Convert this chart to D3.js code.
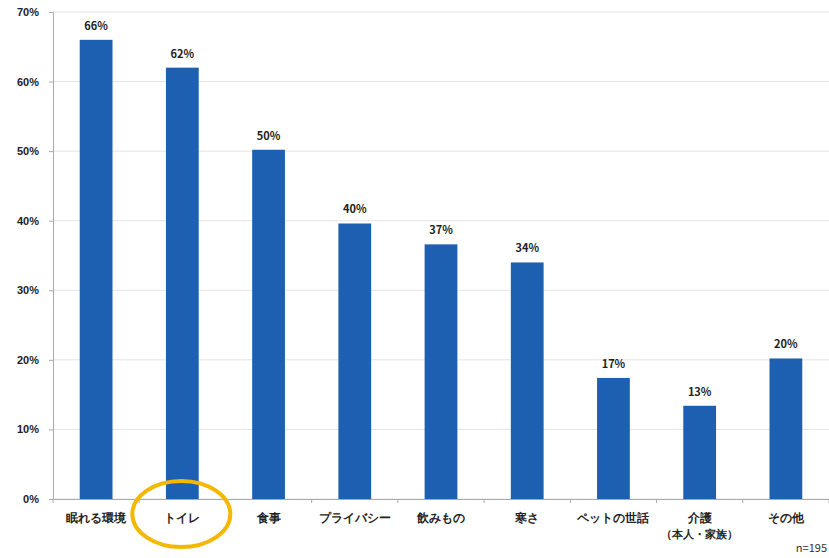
<!DOCTYPE html>
<html lang="ja">
<head>
  <meta charset="UTF-8" />
  <title>避難所で困ったこと</title>
  <script src="https://d3js.org/d3.v7.min.js"></script>
  <style>
    body {
      margin: 0;
      background: #fff;
      font-family: "Noto Sans CJK JP", "Noto Sans", sans-serif;
    }
    .tick text {
      font-size: 11px;
      font-weight: bold;
      fill: #222;
    }
  </style>
</head>
<body>
  <svg width="829" height="558"></svg>

  <script>
    const categories = ["眠れる環境", "トイレ", "食事", "プライバシー", "飲みもの", "寒さ", "ペットの世話", "介護\n（本人・家族）", "その他"];
    const values = [66, 62, 50.2, 39.6, 36.6, 34, 17.4, 13.4, 20.2];
    const yTicks = [0, 10, 20, 30, 40, 50, 60, 70];
    const highlighted = "トイレ";
    const note = "n=195";

    const svg = d3.select("svg"),
          margin = { top: 12, right: 0, bottom: 59, left: 53 },
          width = +svg.attr("width") - margin.left - margin.right,
          height = +svg.attr("height") - margin.top - margin.bottom;

    const chart = svg.append("g")
      .attr("transform", `translate(${margin.left},${margin.top})`);

    const x = d3.scaleBand().domain(categories).range([0, width]).paddingInner(0.62).paddingOuter(0.31);
    const y = d3.scaleLinear().domain([0, 70]).range([height, 0]);

    // gridlines
    chart.append("g")
      .selectAll("line")
      .data(yTicks)
      .enter()
      .append("line")
      .attr("x1", 0)
      .attr("x2", width)
      .attr("y1", d => y(d))
      .attr("y2", d => y(d))
      .attr("stroke", "#e4e4e4")
      .attr("stroke-width", 1);

    // y axis
    const yAxis = chart.append("g")
      .call(d3.axisLeft(y).tickValues(yTicks).tickFormat(d => d + "%").tickSize(4).tickPadding(8));
    yAxis.select(".domain").attr("stroke", "#aaa");
    yAxis.selectAll(".tick line").attr("stroke", "#aaa");
    yAxis.selectAll(".tick text").attr("dx", "-2");

    // x axis
    const step = x.step();
    const xAxis = chart.append("g")
      .attr("transform", `translate(0,${height})`)
      .call(d3.axisBottom(x).tickSize(0).tickPadding(15));
    xAxis.select(".domain").attr("stroke", "#aaa");
    xAxis.selectAll(".tick text").each(function(d) {
      const parts = d.split("\n");
      const t = d3.select(this).text(null);
      parts.forEach((p, i) => {
        t.append("tspan")
          .attr("x", 0)
          .attr("dy", i === 0 ? "0.71em" : "1.55em")
          .attr("font-size", i === 0 ? "11.5px" : "10.5px")
          .text(p);
      });
    });
    chart.append("g")
      .selectAll("line")
      .data(d3.range(categories.length + 1))
      .enter()
      .append("line")
      .attr("x1", i => x(categories[0]) - x.step() * x.paddingOuter() + i * step)
      .attr("x2", i => x(categories[0]) - x.step() * x.paddingOuter() + i * step)
      .attr("y1", height)
      .attr("y2", height + 4)
      .attr("stroke", "#aaa");

    // bars
    chart.selectAll("rect.bar")
      .data(values)
      .enter()
      .append("rect")
      .attr("class", "bar")
      .attr("x", (d, i) => x(categories[i]))
      .attr("y", d => y(d))
      .attr("width", x.bandwidth())
      .attr("height", d => height - y(d))
      .attr("fill", "#1d5fb1");

    // value labels
    chart.selectAll("text.val")
      .data(values)
      .enter()
      .append("text")
      .attr("class", "val")
      .attr("x", (d, i) => x(categories[i]) + x.bandwidth() / 2)
      .attr("y", d => y(d) - 10)
      .attr("text-anchor", "middle")
      .attr("font-size", "11px")
      .attr("font-weight", "bold")
      .attr("fill", "#222")
      .text(d => Math.round(d) + "%");

    // highlight ring
    chart.append("ellipse")
      .attr("cx", x(highlighted) + x.bandwidth() / 2 - 1)
      .attr("cy", height + 15)
      .attr("rx", 49)
      .attr("ry", 33)
      .attr("fill", "none")
      .attr("stroke", "#f4b800")
      .attr("stroke-width", 4);

    svg.append("text")
      .attr("x", 827)
      .attr("y", 552)
      .attr("text-anchor", "end")
      .attr("font-size", "11px")
      .attr("fill", "#333")
      .text(note);
  </script>
</body>
</html>
